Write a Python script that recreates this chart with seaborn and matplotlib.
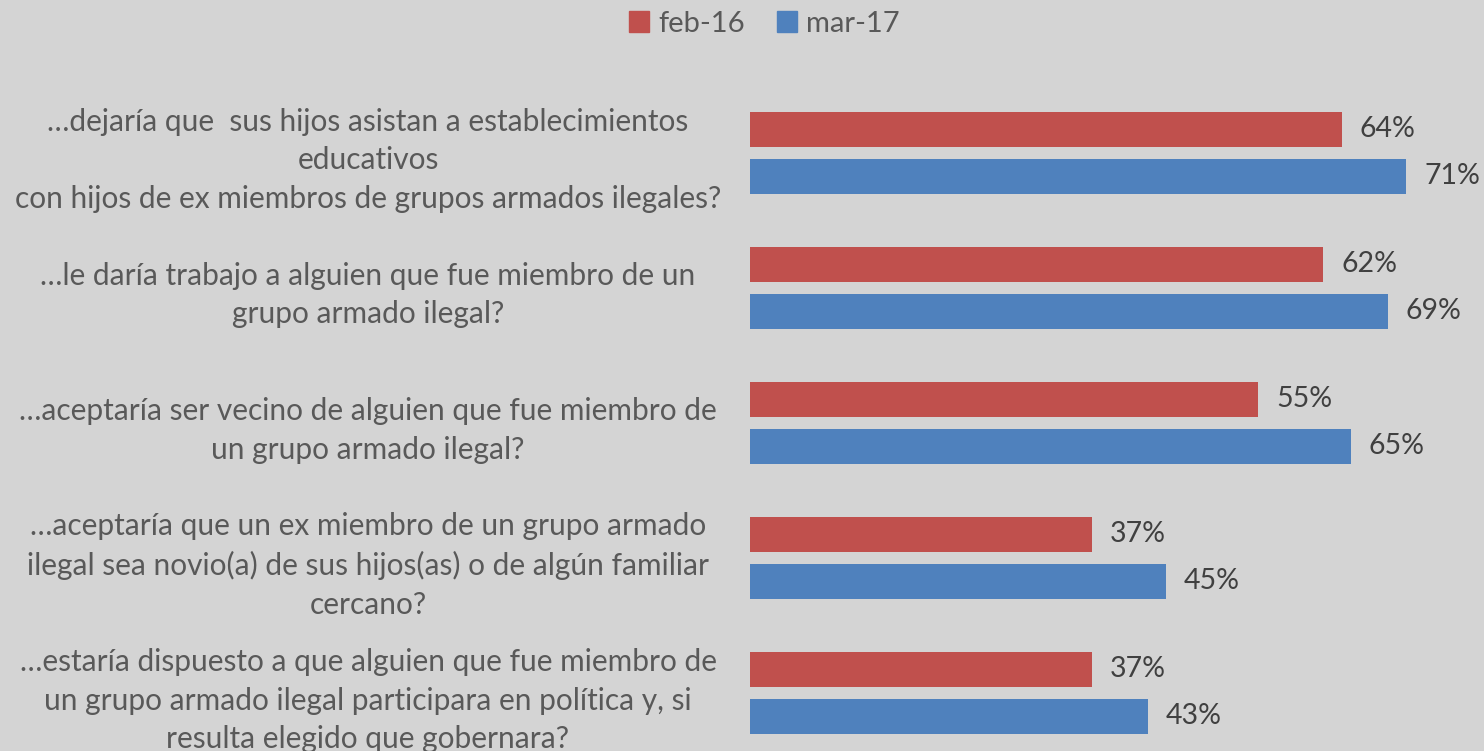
import pandas as pd
import matplotlib.pyplot as plt
import seaborn as sns

# Data
preguntas = [
    "…dejaría que  sus hijos asistan a establecimientos\neducativos\ncon hijos de ex miembros de grupos armados ilegales?",
    "…le daría trabajo a alguien que fue miembro de un\ngrupo armado ilegal?",
    "…aceptaría ser vecino de alguien que fue miembro de\nun grupo armado ilegal?",
    "…aceptaría que un ex miembro de un grupo armado\nilegal sea novio(a) de sus hijos(as) o de algún familiar\ncercano?",
    "…estaría dispuesto a que alguien que fue miembro de\nun grupo armado ilegal participara en política y, si\nresulta elegido que gobernara?",
]
periodos = ["feb-16", "mar-17"]
feb16 = [64, 62, 55, 37, 37]
mar17 = [71, 69, 65, 45, 43]

df = pd.DataFrame({
    "pregunta": preguntas * 2,
    "periodo": [periodos[0]] * 5 + [periodos[1]] * 5,
    "valor": feb16 + mar17,
})

bg = "#d4d4d4"
colores = {"feb-16": "#c0504d", "mar-17": "#4f81bd"}

sns.set_style("white")
plt.rcParams['font.family'] = ['Lato', 'DejaVu Sans']

fig = plt.figure(figsize=(14.84, 7.51), dpi=100, facecolor=bg)
ax = fig.add_axes([750 / 1484, 0, 734 / 1484, 1 - 85 / 751])
ax.set_facecolor(bg)

sns.barplot(data=df, y="pregunta", x="valor", hue="periodo", orient="h",
            palette=colores, saturation=1, width=0.696, gap=0.255, ax=ax,
            linewidth=0, legend=False)

for cont in ax.containers:
    ax.bar_label(cont, fmt="%d%%", padding=13, fontsize=20.5, color="#404040")

ax.set_xlim(0, 79.4)
ax.set_ylim(4.43, -0.5)
ax.set_xlabel("")
ax.set_ylabel("")
ax.set_xticks([])
sns.despine(ax=ax, left=True, bottom=True)
ax.set_yticks(range(len(preguntas)))
ax.set_yticklabels(preguntas, ha="center", multialignment="center",
                   fontsize=21.5, color="#595959", linespacing=1.45)
ax.tick_params(axis="y", length=0, pad=(750 - 368) * 0.72)

handles = [plt.Rectangle((0, 0), 1, 1, color=colores[p]) for p in periodos]
fig.legend(handles, periodos, loc="upper center", bbox_to_anchor=(0.515, 1.005),
           ncol=2, frameon=False, fontsize=21, labelcolor="#595959",
           handlelength=0.7, handleheight=0.7, handletextpad=0.3,
           columnspacing=1.1, borderaxespad=0.1)

fig.savefig("out.png", dpi=100, facecolor=bg)
